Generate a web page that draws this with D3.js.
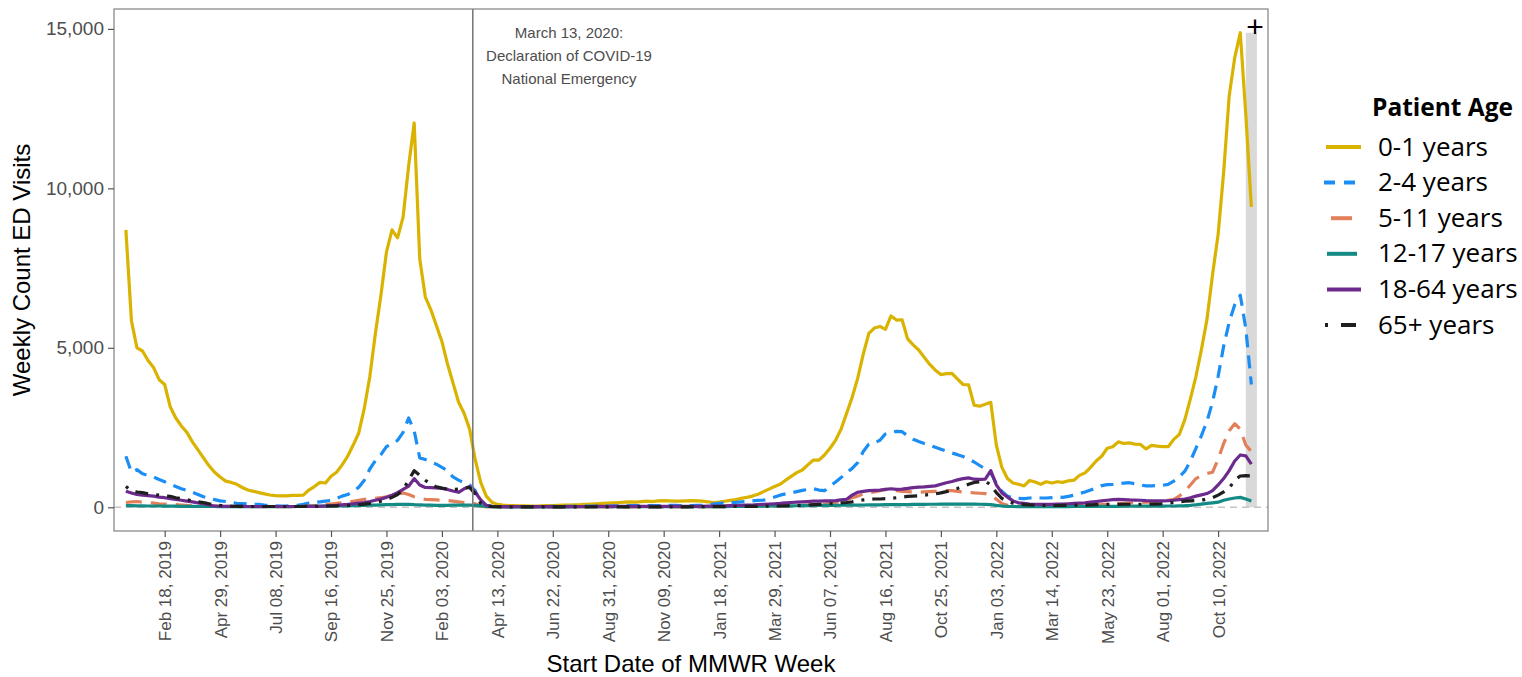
<!DOCTYPE html>
<html><head><meta charset="utf-8">
<script src="https://cdn.jsdelivr.net/npm/d3@7"></script>
<style>body{margin:0;background:#fff;} svg{display:block;background:#fff;}</style>
</head><body>
<svg id="chart" width="1522" height="677"></svg>
<script>
// ---------------- DATA ----------------
const startWeek = "2018-12-31";   // first MMWR week start shown
const ageGroups = ["0-1 years","2-4 years","5-11 years","12-17 years","18-64 years","65+ years"];

const age0_1 = [8700,5850,5000,4900,4600,4380,4000,3850,3150,2800,
2550,2350,2050,1800,1550,1300,1100,950,820,780,
720,620,540,500,460,420,385,365,355,360,
375,375,380,540,650,780,760,970,1100,1330,
1600,1950,2330,3100,4100,5450,6650,8000,8700,8450,
9100,10700,12050,7800,6600,6200,5700,5200,4500,3900,
3300,2950,2450,1500,780,350,160,90,70,55,
50,45,45,40,40,45,50,55,60,65,
70,75,80,90,100,110,120,130,140,150,
160,170,160,180,190,180,200,210,200,190,
190,200,210,200,190,170,150,160,190,215,
240,280,310,350,410,490,570,650,720,850,
970,1085,1170,1330,1480,1480,1640,1850,2100,2450,
2950,3450,4050,4800,5450,5620,5670,5580,6000,5870,
5880,5280,5090,4930,4700,4480,4300,4160,4190,4200,
4020,3850,3840,3200,3170,3230,3290,1950,1250,900,
760,720,670,840,790,720,800,760,800,780,
830,850,1000,1080,1250,1450,1600,1850,1900,2050,
2000,2020,1980,1970,1830,1940,1915,1900,1900,2130,
2280,2750,3400,4100,4950,5900,7300,8550,10500,12900,
14100,14880,12300,9420];

const age2_4 = [1600,1100,1180,1050,1000,950,870,800,720,650,
580,530,470,400,330,280,240,200,180,150,
125,115,105,95,90,70,55,45,40,45,
55,60,90,130,150,170,190,210,280,350,
400,500,630,850,1200,1460,1650,1900,2000,2100,
2350,2800,2400,1550,1500,1420,1350,1250,1150,950,
850,770,700,520,150,60,30,25,20,20,
20,20,20,25,25,25,25,30,30,30,
30,30,35,35,35,40,40,40,45,45,
45,50,50,50,50,55,55,55,60,60,
50,55,55,60,65,80,100,120,135,145,
155,170,185,200,215,225,260,320,380,420,
450,490,530,560,580,540,520,660,790,930,
1085,1220,1400,1750,1980,2020,2100,2300,2350,2380,
2370,2240,2130,2060,2000,1940,1880,1820,1760,1700,
1650,1590,1510,1420,1310,1200,1080,750,500,350,
290,280,270,290,300,290,290,300,330,310,
340,380,430,480,540,600,680,710,720,740,
760,770,740,700,670,670,680,690,720,820,
950,1130,1450,1850,2250,2700,3300,4100,5050,5800,
6350,6650,5600,3850];

const age5_11 = [150,170,180,160,150,130,110,100,90,80,
70,60,55,50,45,40,35,30,30,25,
25,20,20,20,20,20,20,20,20,20,
20,25,30,40,50,60,80,100,120,140,
160,190,220,250,260,280,300,330,380,420,
450,400,330,280,250,240,230,220,210,190,
170,150,140,110,40,15,10,10,10,10,
8,8,8,8,8,8,8,8,8,8,
8,8,8,8,10,10,10,10,10,10,
10,10,12,12,12,12,12,12,15,15,
15,15,15,15,15,20,20,20,25,25,
25,30,30,30,35,35,40,40,45,50,
50,55,60,70,80,90,100,120,150,200,
250,300,350,420,460,480,520,560,540,520,
500,490,480,470,480,490,500,510,520,520,
500,480,470,450,440,430,380,250,120,60,
40,30,30,30,30,30,30,30,35,40,
40,45,50,55,60,70,80,90,100,110,
120,130,140,150,160,170,180,200,220,250,
350,500,700,900,1000,1060,1100,1500,2000,2400,
2620,2450,1950,1750];

const age12_17 = [50,50,45,45,40,40,40,35,35,35,
30,30,30,25,25,25,25,20,20,20,
20,20,20,20,20,20,20,20,20,20,
20,25,25,30,30,35,35,40,40,45,
45,50,55,60,65,70,75,80,85,90,
95,90,80,75,70,65,60,60,60,65,
70,70,65,60,45,30,20,18,16,15,
15,15,15,15,15,15,15,15,15,15,
15,16,16,17,17,18,18,19,19,20,
20,20,20,20,20,20,20,20,20,20,
20,20,20,20,20,20,20,20,22,24,
26,28,30,32,34,36,38,40,42,44,
46,48,50,52,54,56,58,60,62,64,
66,68,70,72,74,76,78,80,80,82,
84,86,88,90,92,94,95,96,97,98,
100,100,98,96,95,90,85,60,40,30,
25,22,20,20,20,20,20,20,20,22,
22,24,24,26,26,28,28,30,30,30,
32,32,34,34,36,36,38,38,40,40,
45,50,60,80,100,120,140,160,220,260,
290,310,260,200];

const age18_64 = [500,450,400,380,365,350,320,300,270,245,
220,195,170,140,110,70,40,35,30,30,
28,28,25,25,25,25,25,25,25,25,
25,25,28,28,30,30,40,50,60,75,
90,110,130,150,180,220,260,310,380,460,
560,660,900,700,620,615,610,590,560,510,
470,580,650,480,230,60,30,25,22,20,
20,20,20,20,20,20,20,20,20,22,
22,22,24,24,24,26,26,26,28,28,
28,30,30,30,30,30,30,30,30,30,
30,30,30,30,32,34,36,40,45,50,
55,60,65,70,80,90,100,110,120,140,
150,160,170,180,190,195,200,200,210,230,
250,380,470,500,520,530,540,560,580,560,
570,590,615,630,640,655,670,720,770,810,
860,900,920,880,875,880,1150,700,450,320,
200,140,120,100,95,90,90,90,100,100,
110,120,130,140,160,180,200,220,240,250,
240,230,225,220,210,205,200,200,205,220,
240,260,300,350,390,430,520,700,900,1150,
1450,1640,1610,1350];

const age65plus = [650,520,480,460,420,400,380,355,340,300,
270,240,200,170,150,110,80,60,45,35,
30,28,25,25,25,25,25,25,25,25,
25,25,25,28,30,32,35,40,45,50,
55,65,80,100,120,150,190,240,310,400,
550,850,1150,1000,850,720,640,600,570,560,
570,600,620,420,120,30,20,15,15,15,
15,15,15,15,15,15,15,15,15,15,
15,15,15,15,15,15,15,15,15,15,
15,15,15,15,15,15,15,15,15,15,
15,15,15,15,20,20,20,20,20,25,
25,25,30,30,30,35,35,40,40,45,
50,55,60,70,80,90,100,110,120,135,
150,170,200,230,250,260,260,270,280,300,
320,340,350,360,380,400,420,450,490,540,
590,650,720,780,800,820,700,460,280,180,
130,100,85,75,65,60,55,55,55,60,
60,65,65,70,75,80,85,90,90,90,
95,95,95,95,95,100,100,110,130,150,
170,190,200,210,220,260,300,380,480,600,
850,980,990,980];

const tickDates = ["2019-02-18","2019-04-29","2019-07-08","2019-09-16","2019-11-25","2020-02-03",
  "2020-04-13","2020-06-22","2020-08-31","2020-11-09","2021-01-18","2021-03-29","2021-06-07",
  "2021-08-16","2021-10-25","2022-01-03","2022-03-14","2022-05-23","2022-08-01","2022-10-10"];
const tickLabels = ["Feb 18, 2019","Apr 29, 2019","Jul 08, 2019","Sep 16, 2019","Nov 25, 2019","Feb 03, 2020",
  "Apr 13, 2020","Jun 22, 2020","Aug 31, 2020","Nov 09, 2020","Jan 18, 2021","Mar 29, 2021","Jun 07, 2021",
  "Aug 16, 2021","Oct 25, 2021","Jan 03, 2022","Mar 14, 2022","May 23, 2022","Aug 01, 2022","Oct 10, 2022"];
const yTicks = [0, 5000, 10000, 15000];
const emergencyDate = "2020-03-13";
const emergencyText = ["March 13, 2020:", "Declaration of COVID-19", "National Emergency"];
const incompleteStart = "2022-11-14";
const incompleteEnd = "2022-11-28";

// ---------------- CHART ----------------
const parse = d3.utcParse("%Y-%m-%d");
const start = parse(startWeek);
const weeks = age0_1.map((_, i) => d3.utcDay.offset(start, 7 * i));

const L = 114, R = 1268, T = 9, B = 531;
const x = d3.scaleUtc().domain([parse("2018-12-16"), parse("2022-12-12")]).range([L, R]);
const y = d3.scaleLinear().domain([-744, 15624]).range([B, T]);

const svg = d3.select("#chart");
const axisFont = "'Liberation Sans', Arial, Helvetica, sans-serif";
const legFont = "'Open Sans', 'Noto Sans', sans-serif";

const series = [
  {name: ageGroups[0], values: age0_1,   color: "#D9B300", dash: null},
  {name: ageGroups[1], values: age2_4,   color: "#1B8EF5", dash: "13,8"},
  {name: ageGroups[2], values: age5_11,  color: "#E3805C", dash: "16,9"},
  {name: ageGroups[3], values: age12_17, color: "#138A83", dash: null},
  {name: ageGroups[4], values: age18_64, color: "#6C2A8C", dash: null},
  {name: ageGroups[5], values: age65plus,color: "#1F1F1F", dash: "3,8,13,8"}
];

// gray incomplete-data bar
svg.append("rect")
  .attr("x", x(parse(incompleteStart)))
  .attr("width", x(parse(incompleteEnd)) - x(parse(incompleteStart)))
  .attr("y", y(d3.max(age0_1)))
  .attr("height", y(0) - y(d3.max(age0_1)))
  .attr("fill", "#D9D9D9");

// zero reference line
svg.append("line")
  .attr("x1", L).attr("x2", R).attr("y1", y(0)).attr("y2", y(0))
  .attr("stroke", "#C4C4C4").attr("stroke-width", 1.6).attr("stroke-dasharray", "7,5");

// lines
const line = d3.line().x((d, i) => x(weeks[i])).y(d => y(d));
series.forEach(s => {
  svg.append("path")
    .datum(s.values)
    .attr("d", line)
    .attr("fill", "none")
    .attr("stroke", s.color)
    .attr("stroke-width", 3.2)
    .attr("stroke-linejoin", "round")
    .attr("stroke-dasharray", s.dash);
});

// emergency vertical line
svg.append("line")
  .attr("x1", x(parse(emergencyDate))).attr("x2", x(parse(emergencyDate)))
  .attr("y1", T).attr("y2", B)
  .attr("stroke", "#7A7A7A").attr("stroke-width", 1.6);

// panel border
svg.append("rect").attr("x", L).attr("y", T).attr("width", R - L).attr("height", B - T)
  .attr("fill", "none").attr("stroke", "#8A8A8A").attr("stroke-width", 1.3);

// annotation
const ann = svg.append("text").attr("text-anchor", "middle")
  .attr("font-family", axisFont).attr("font-size", 15).attr("fill", "#4D4D4D");
emergencyText.forEach((t, i) => {
  ann.append("tspan").attr("x", 569).attr("y", 38 + i * 23).text(t);
});

// plus sign over gray bar
svg.append("text").attr("x", 1255).attr("y", 37).attr("text-anchor", "middle")
  .attr("font-family", axisFont).attr("font-size", 30).attr("fill", "#000").text("+");

// y axis
const yAxis = svg.append("g").attr("transform", `translate(${L},0)`)
  .call(d3.axisLeft(y).tickValues(yTicks).tickFormat(d3.format(",")).tickSize(6).tickPadding(4));
yAxis.select(".domain").remove();
yAxis.selectAll("line").attr("stroke", "#555").attr("stroke-width", 1.2);
yAxis.selectAll("text").attr("font-family", axisFont).attr("font-size", 19).attr("fill", "#4D4D4D");

// x axis
const xAxis = svg.append("g").attr("transform", `translate(0,${B})`)
  .call(d3.axisBottom(x).tickValues(tickDates.map(parse)).tickFormat((d, i) => tickLabels[i]).tickSize(6));
xAxis.select(".domain").remove();
xAxis.selectAll("line").attr("stroke", "#555").attr("stroke-width", 1.2);
xAxis.selectAll("text")
  .attr("font-family", axisFont).attr("font-size", 17).attr("fill", "#4D4D4D")
  .attr("transform", "rotate(-90)")
  .attr("text-anchor", "end")
  .attr("x", -10).attr("y", 0).attr("dy", "0.35em");

// axis titles
svg.append("text").attr("transform", "translate(30,270) rotate(-90)")
  .attr("text-anchor", "middle").attr("font-family", axisFont).attr("font-size", 24)
  .attr("fill", "#000").text("Weekly Count ED Visits");
svg.append("text").attr("x", 691).attr("y", 672)
  .attr("text-anchor", "middle").attr("font-family", axisFont).attr("font-size", 24)
  .attr("fill", "#000").text("Start Date of MMWR Week");

// legend
const leg = svg.append("g");
leg.append("text").attr("x", 1372).attr("y", 116).attr("font-family", legFont)
  .attr("font-weight", "bold").attr("font-size", 24.5).attr("fill", "#000").text("Patient Age");
const keySpec = [
  {x1: 1326, x2: 1361},
  {x1: 1324, x2: 1358},
  {x1: 1331, x2: 1352},
  {x1: 1327, x2: 1357},
  {x1: 1327, x2: 1361},
  {x1: 1325, x2: 1357}
];
const legDash = [null, "11,9", null, null, null, "3,13,15,20"];
series.forEach((s, k) => {
  const ky = 147 + k * 35.6;
  leg.append("line").attr("x1", keySpec[k].x1).attr("x2", keySpec[k].x2)
    .attr("y1", ky).attr("y2", ky).attr("stroke", s.color).attr("stroke-width", 4)
    .attr("stroke-dasharray", legDash[k]);
  leg.append("text").attr("x", 1378).attr("y", ky + 8.5).attr("font-family", legFont)
    .attr("font-size", 26).attr("fill", "#000").text(s.name);
});
</script>
</body></html>
